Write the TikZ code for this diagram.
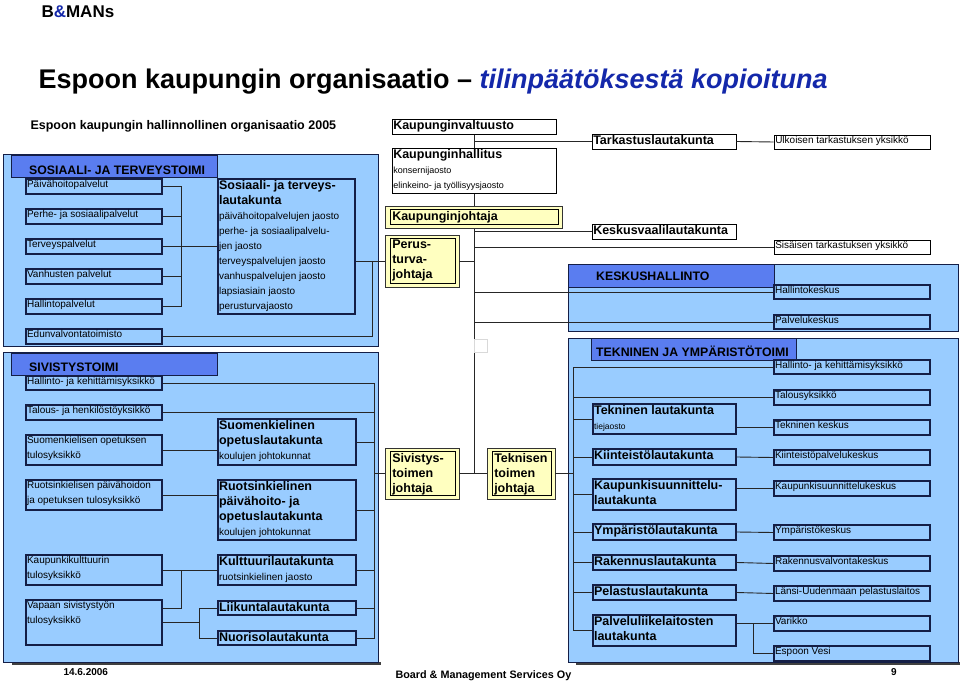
\documentclass[tikz,border=0pt]{standalone}
\usepackage{fontspec}
\setmainfont{Liberation Sans}
\usetikzlibrary{fit,positioning}
\definecolor{blkblue}{RGB}{153,204,255}
\definecolor{tabblue}{RGB}{90,125,240}
\definecolor{navy}{RGB}{20,30,70}
\definecolor{pale}{RGB}{255,255,192}
\definecolor{titblue}{RGB}{20,40,170}
\tikzset{
  block/.style={rectangle,fill=blkblue,draw=navy,line width=0.9pt,inner sep=0pt},
  tab/.style={rectangle,fill=tabblue,draw=navy,line width=0.9pt,inner sep=0pt},
  unit/.style={rectangle,fill=blkblue,draw=navy,line width=1.3pt,inner sep=0pt},
  plain/.style={rectangle,fill=white,draw=black,line width=0.9pt,inner sep=0pt},
  yout/.style={rectangle,fill=pale,draw=black!80,line width=0.9pt,inner sep=0pt},
  yin/.style={draw=black,line width=1.2pt},
  txtlab/.style={anchor=north west,align=left,inner xsep=1.5pt,inner ysep=0pt,yshift=-1.5pt,
    font=\fontsize{10}{15}\selectfont},
  conn/.style={draw=black!85,line width=0.9pt},
  hdr/.style={anchor=base west,inner sep=0pt,font=\fontsize{12.3}{14}\selectfont\bfseries}
}
\newcommand{\tit}[1]{{\fontsize{12.5}{15}\selectfont\bfseries #1}}
\newcommand{\ubox}[4][unit]{\node[#1,fit={#3},label={[txtlab]north west:#4}] (#2) {};}
\newcommand{\ybox}[3]{%
  \node[yout,fit={#2}] (#1) {};
  \draw[yin] ([xshift=6pt,yshift=-4pt]#1.north west) rectangle ([xshift=-4pt,yshift=4pt]#1.south east);
  \node[txtlab] at ([xshift=6pt,yshift=-4pt]#1.north west) {#3};}
\begin{document}
\begin{tikzpicture}[x=1pt,y=-1pt]
  \useasboundingbox (0,0) rectangle (960,684);

  % headings
  \node[anchor=west,font=\fontsize{17}{19}\selectfont\bfseries] (logo) at (38,12) {B\textcolor{titblue}{\&}MANs};
  \node[anchor=west,font=\fontsize{27}{30}\selectfont\bfseries] (title) at (35,82)
    {Espoon kaupungin organisaatio -- \textcolor{titblue}{\itshape tilinpäätöksestä kopioituna}};
  \node[anchor=west,font=\fontsize{12.5}{14}\selectfont\bfseries] (sub) at (27,126)
    {Espoon kaupungin hallinnollinen organisaatio 2005};

  % sosiaali- ja terveystoimi
  \node[block,fit={(3,154)(378,346)}] (sosblk) {};
  \node[tab,fit={(11,155)(217,177)}] (sostab) {};
  \node[hdr] (soshdr) at (29,175) {SOSIAALI- JA TERVEYSTOIMI};
  \ubox{paiv}{(26,179)(162,194)}{Päivähoitopalvelut}
  \ubox{perhe}{(26,209)(162,224)}{Perhe- ja sosiaalipalvelut}
  \ubox{terv}{(26,239)(162,254)}{Terveyspalvelut}
  \ubox{vanh}{(26,269)(162,284)}{Vanhusten palvelut}
  \ubox{halp}{(26,299)(162,314)}{Hallintopalvelut}
  \ubox{edun}{(26,329)(162,344)}{Edunvalvontatoimisto}
  \ubox{stlk}{(218,179)(355,314)}{\tit{Sosiaali- ja terveys-}\\\tit{lautakunta}\\päivähoitopalvelujen jaosto\\perhe- ja sosiaalipalvelu-\\jen jaosto\\terveyspalvelujen jaosto\\vanhuspalvelujen jaosto\\lapsiasiain jaosto\\perusturvajaosto}

  % sivistystoimi
  \fill[black!75] (12,662) rectangle (381,665);
  \node[block,fit={(3,352)(378,662)}] (sivblk) {};
  \node[tab,fit={(11,353)(217,375)}] (sivtab) {};
  \node[hdr] (sivhdr) at (29,371) {SIVISTYSTOIMI};
  \ubox{hke}{(26,376)(162,390)}{Hallinto- ja kehittämisyksikkö}
  \ubox{talh}{(26,405)(162,420)}{Talous- ja henkilöstöyksikkö}
  \ubox{suop}{(26,435)(162,465)}{Suomenkielisen opetuksen\\tulosyksikkö}
  \ubox{ruop}{(26,480)(162,510)}{Ruotsinkielisen päivähoidon\\ja opetuksen tulosyksikkö}
  \ubox{kk}{(26,555)(162,585)}{Kaupunkikulttuurin\\tulosyksikkö}
  \ubox{vap}{(26,600)(162,645)}{Vapaan sivistystyön\\tulosyksikkö}
  \ubox{sulk}{(218,419)(356,465)}{\tit{Suomenkielinen}\\\tit{opetuslautakunta}\\koulujen johtokunnat}
  \ubox{rulk}{(218,480)(356,540)}{\tit{Ruotsinkielinen}\\\tit{päivähoito- ja}\\\tit{opetuslautakunta}\\koulujen johtokunnat}
  \ubox{kult}{(218,555)(356,585)}{\tit{Kulttuurilautakunta}\\ruotsinkielinen jaosto}
  \ubox{liik}{(218,601)(356,615)}{\tit{Liikuntalautakunta}}
  \ubox{nuor}{(218,631)(356,645)}{\tit{Nuorisolautakunta}}

  % keskushallinto
  \node[block,fit={(568,264)(958,331)}] (kesblk) {};
  \node[tab,fit={(568,264)(774,287)}] (kestab) {};
  \node[hdr] (keshdr) at (596,281) {KESKUSHALLINTO};

  % tekninen ja ympäristötoimi
  \fill[black!75] (576,662) rectangle (960,665);
  \node[block,fit={(568,338)(958,662)}] (tekblk) {};
  \node[tab,fit={(591,338)(796,360)}] (tektab) {};
  \node[hdr] (tekhdr) at (596,356) {TEKNINEN JA YMPÄRISTÖTOIMI};

  % spine first, boxes over it
  \coordinate (spt) at (474,134);
  \draw[conn] (spt) -- (474,473);

  % kaupungin johto
  \ubox[plain]{kv}{(392,119)(556,134)}{\tit{Kaupunginvaltuusto}}
  \ubox[plain]{kh}{(392,148)(556,193)}{\tit{Kaupunginhallitus}\\{\fontsize{9}{15}\selectfont konsernijaosto}\\{\fontsize{9}{15}\selectfont elinkeino- ja työllisyysjaosto}}
  \ybox{kj}{(385,206)(562,228)}{\tit{Kaupunginjohtaja}}
  \ybox{perus}{(385,235)(459,287)}{\tit{Perus-}\\\tit{turva-}\\\tit{johtaja}}
  \ybox{sivj}{(385,448)(459,499)}{\tit{Sivistys-}\\\tit{toimen}\\\tit{johtaja}}
  \ybox{tekj}{(487,448)(555,499)}{\tit{Teknisen}\\\tit{toimen}\\\tit{johtaja}}
  \draw[black!15] (474,339) rectangle (487,352);

  % lautakunnat
  \ubox[plain]{tark}{(592,134)(736,149)}{\tit{Tarkastuslautakunta}}
  \ubox[plain]{kvaal}{(592,224)(736,239)}{\tit{Keskusvaalilautakunta}}
  \ubox{tlk}{(593,404)(736,434)}{\tit{Tekninen lautakunta}\\{\fontsize{8.5}{14}\selectfont tiejaosto}}
  \ubox{kiint}{(593,449)(736,465)}{\tit{Kiinteistölautakunta}}
  \ubox{kaup}{(593,479)(736,510)}{\tit{Kaupunkisuunnittelu-}\\\tit{lautakunta}}
  \ubox{ymp}{(593,524)(736,540)}{\tit{Ympäristölautakunta}}
  \ubox{rak}{(593,555)(736,570)}{\tit{Rakennuslautakunta}}
  \ubox{pel}{(593,585)(736,600)}{\tit{Pelastuslautakunta}}
  \ubox{palv}{(593,615)(736,646)}{\tit{Palveluliikelaitosten}\\\tit{lautakunta}}

  % yksiköt
  \ubox[plain]{ulk}{(774,135)(930,149)}{Ulkoisen tarkastuksen yksikkö}
  \ubox[plain]{sis}{(774,240)(930,254)}{Sisäisen tarkastuksen yksikkö}
  \ubox{hk}{(774,285)(930,299)}{Hallintokeskus}
  \ubox{pk}{(774,315)(930,329)}{Palvelukeskus}
  \ubox{hky}{(774,360)(930,374)}{Hallinto- ja kehittämisyksikkö}
  \ubox{tal}{(774,390)(930,405)}{Talousyksikkö}
  \ubox{tk}{(774,420)(930,435)}{Tekninen keskus}
  \ubox{kpk}{(774,450)(930,465)}{Kiinteistöpalvelukeskus}
  \ubox{kaupk}{(774,481)(930,496)}{Kaupunkisuunnittelukeskus}
  \ubox{ympk}{(774,525)(930,540)}{Ympäristökeskus}
  \ubox{rakk}{(774,556)(930,571)}{Rakennusvalvontakeskus}
  \ubox{lu}{(774,586)(930,601)}{Länsi-Uudenmaan pelastuslaitos}
  \ubox{var}{(774,616)(930,631)}{Varikko}
  \ubox{vesi}{(774,646)(930,661)}{Espoon Vesi}

  % johdon linja
  \draw[conn] (kv.south |- tark.west) -- (tark.west);
  \draw[conn] (tark.east) -- (ulk.west);
  \draw[conn] (kv.south |- kvaal.west) -- (kvaal.west);
  \draw[conn] (kv.south |- sis.west) -- (sis.west);
  \draw[conn] (kv.south |- hk.west) -- (hk.west);
  \draw[conn] (kv.south |- pk.west) -- (pk.west);
  \draw[conn] (perus.east) -- (perus.east -| kv.south);
  \draw[conn] (sivj.east) -- (tekj.west);

  % sosiaali- ja terveystoimen linjat
  \foreach \u in {paiv,perhe,terv,vanh,halp}
    \draw[conn] (\u.east) -- ++(19,0) |- (stlk.west);
  \draw[conn] (perus.west) -- (perus.west -| stlk.east);
  \draw[conn] (edun.east) -| ([xshift=-12pt]perus.west);

  % sivistystoimen linjat
  \coordinate (sbr) at (374,383);
  \draw[conn] (hke.east) -- (sbr) -- (sbr |- nuor.east) -- (nuor.east);
  \draw[conn] (talh.east) -- (talh.east -| sbr);
  \foreach \l in {sulk,rulk,kult,liik}
    \draw[conn] (\l.east) -- (\l.east -| sbr);
  \draw[conn] (sbr |- sivj.west) -- (sivj.west);
  \draw[conn] (suop.east) -- (suop.east -| sulk.west);
  \draw[conn] (ruop.east) -- (ruop.east -| rulk.west);
  \draw[conn] (kk.east) -- (kult.west);
  \draw[conn] ([yshift=14.5pt]vap.east) -| ([xshift=19pt]kk.east);
  \draw[conn] (vap.east) -- ++(37,0);
  \draw[conn] (liik.west) -- ++(-18,0) |- (nuor.west);

  % teknisen toimen linjat
  \coordinate (tbr) at (573,367);
  \draw[conn] (tekj.east) -- (tekj.east -| tbr);
  \draw[conn] (hky.west) -- (tbr) -- (tbr |- palv.west) -- (palv.west);
  \draw[conn] (tbr |- tal.west) -- (tal.west);
  \foreach \l in {tlk,kiint,kaup,ymp,rak,pel}
    \draw[conn] (tbr |- \l.west) -- (\l.west);
  \draw[conn] (tk.west -| tlk.east) -- (tk.west);
  \draw[conn] (kiint.east) -- (kpk.west);
  \draw[conn] (kaupk.west -| kaup.east) -- (kaupk.west);
  \draw[conn] (ymp.east) -- (ympk.west);
  \draw[conn] (rak.east) -- (rakk.west);
  \draw[conn] (pel.east) -- (lu.west);
  \draw[conn] (var.west -| palv.east) -- (var.west);
  \draw[conn] ([xshift=-20pt]var.west) |- (vesi.west);

  % alatunniste
  \node[anchor=west,font=\fontsize{10}{12}\selectfont\bfseries] (date) at (60,672) {14.6.2006};
  \node[anchor=west,font=\fontsize{10.8}{12}\selectfont\bfseries] (firm) at (392,676) {Board \& Management Services Oy};
  \node[font=\fontsize{10}{12}\selectfont\bfseries] (page) at (894,672) {9};
\end{tikzpicture}
\end{document}
